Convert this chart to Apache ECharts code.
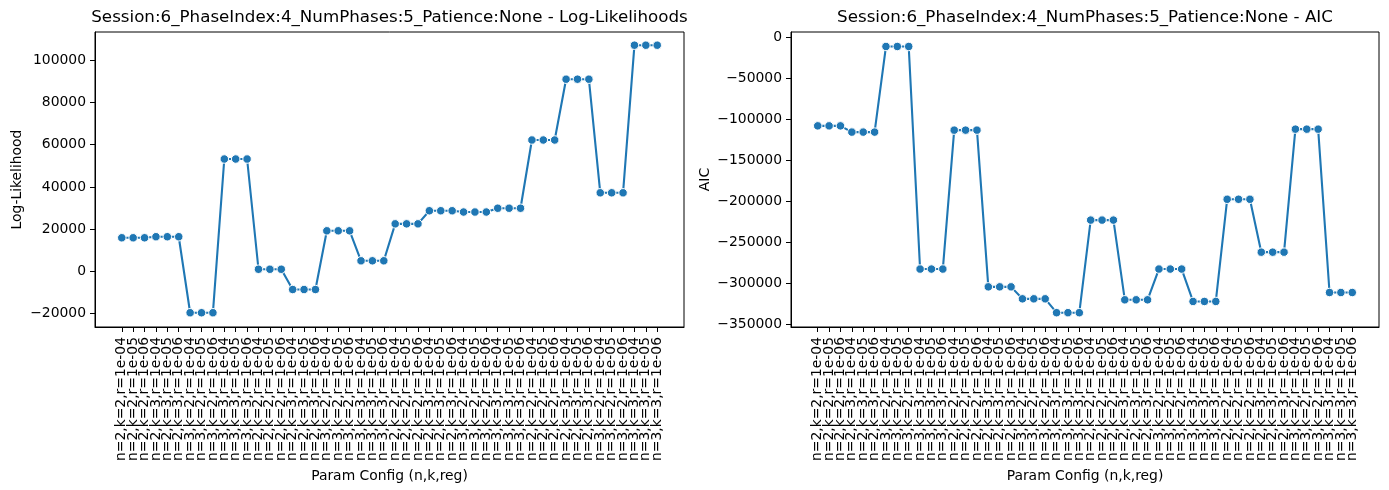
<!DOCTYPE html>
<html><head><meta charset="utf-8">
<script src="https://cdn.jsdelivr.net/npm/echarts@6/dist/echarts.min.js"></script>
<style>html,body{margin:0;padding:0;background:#fff}#c{width:1389px;height:490px}</style>
</head><body><div id="c"></div>
<script>
const categories = [
"n=2,k=2,r=1e-04","n=2,k=2,r=1e-05","n=2,k=2,r=1e-06","n=2,k=3,r=1e-04","n=2,k=3,r=1e-05","n=2,k=3,r=1e-06",
"n=3,k=2,r=1e-04","n=3,k=2,r=1e-05","n=3,k=2,r=1e-06","n=3,k=3,r=1e-04","n=3,k=3,r=1e-05","n=3,k=3,r=1e-06",
"n=2,k=2,r=1e-04","n=2,k=2,r=1e-05","n=2,k=2,r=1e-06","n=2,k=3,r=1e-04","n=2,k=3,r=1e-05","n=2,k=3,r=1e-06",
"n=3,k=2,r=1e-04","n=3,k=2,r=1e-05","n=3,k=2,r=1e-06","n=3,k=3,r=1e-04","n=3,k=3,r=1e-05","n=3,k=3,r=1e-06",
"n=2,k=2,r=1e-04","n=2,k=2,r=1e-05","n=2,k=2,r=1e-06","n=2,k=3,r=1e-04","n=2,k=3,r=1e-05","n=2,k=3,r=1e-06",
"n=3,k=2,r=1e-04","n=3,k=2,r=1e-05","n=3,k=2,r=1e-06","n=3,k=3,r=1e-04","n=3,k=3,r=1e-05","n=3,k=3,r=1e-06",
"n=2,k=2,r=1e-04","n=2,k=2,r=1e-05","n=2,k=2,r=1e-06","n=2,k=3,r=1e-04","n=2,k=3,r=1e-05","n=2,k=3,r=1e-06",
"n=3,k=2,r=1e-04","n=3,k=2,r=1e-05","n=3,k=2,r=1e-06","n=3,k=3,r=1e-04","n=3,k=3,r=1e-05","n=3,k=3,r=1e-06"
];
const logLikelihood = [
15900,15900,15900,16400,16400,16400,
-19600,-19600,-19600,53200,53200,53200,
1000,1000,1000,-8600,-8600,-8600,
19200,19200,19200,5000,5000,5000,
22500,22500,22500,28700,28700,28700,
28100,28100,28100,29900,29900,29900,
62200,62200,62200,91000,91000,91000,
37200,37200,37200,107100,107100,107100
];
const aic = [
-108100,-108100,-108100,-115700,-115700,-115700,
-11300,-11300,-11300,-282700,-282700,-282700,
-113300,-113300,-113300,-304400,-304400,-304400,
-319000,-319000,-319000,-335900,-335900,-335900,
-223000,-223000,-223000,-320200,-320200,-320200,
-282700,-282700,-282700,-322200,-322200,-322200,
-197600,-197600,-197600,-262100,-262100,-262100,
-112100,-112100,-112100,-311300,-311300,-311300
];
const llTicks = [-20000,0,20000,40000,60000,80000,100000];
const aicTicks = [-350000,-300000,-250000,-200000,-150000,-100000,-50000,0];
const titleLL = "Session:6_PhaseIndex:4_NumPhases:5_Patience:None - Log-Likelihoods";
const titleAIC = "Session:6_PhaseIndex:4_NumPhases:5_Patience:None - AIC";

const FONT = "DejaVu Sans";
const BLUE = "#1f77b4";
const idx = categories.map((_, i) => i);
const evenIdx = idx.filter(i => i % 2 === 0);
const oddIdx = idx.filter(i => i % 2 === 1);
const fmtNum = v => v < 0 ? "\u2212" + Math.abs(v) : String(v);

// Two stacked bottom axes per grid (even / odd labels) so that ECharts
// does not drop any of the densely packed rotated category labels.
function xAxisFor(gi, vals, withName) {
  return {
    type: "value", gridIndex: gi, position: "bottom", offset: 0, min: -2.35, max: 49.35,
    name: withName ? "Param Config (n,k,reg)" : "", nameLocation: "middle", nameGap: 138,
    nameTextStyle: {fontFamily: FONT, fontSize: 13.9, color: "#000"},
    axisLine: {show: withName, onZero: false, lineStyle: {color: "#000", width: 1}},
    axisTick: {show: true, inside: false, length: 5, customValues: vals, lineStyle: {color: "#000", width: 1}},
    axisLabel: {show: true, rotate: 90, margin: 10, customValues: vals, showMinLabel: true, showMaxLabel: true, hideOverlap: false,
      fontFamily: FONT, fontSize: 13.9, color: "#000",
      formatter: v => categories[Math.round(v)] || ""},
    splitLine: {show: false}
  };
}
function yAxisFor(gi, name, min, max, ticks, gap) {
  return {
    type: "value", gridIndex: gi, min: min, max: max,
    name: name, nameLocation: "middle", nameGap: gap,
    nameTextStyle: {fontFamily: FONT, fontSize: 13.9, color: "#000"},
    axisLine: {show: true, onZero: false, lineStyle: {color: "#000", width: 1}},
    axisTick: {show: true, inside: false, length: 5, customValues: ticks, lineStyle: {color: "#000", width: 1}},
    axisLabel: {show: true, margin: 9, customValues: ticks, showMinLabel: true, showMaxLabel: true,
      fontFamily: FONT, fontSize: 13.9, color: "#000", formatter: fmtNum},
    splitLine: {show: false}
  };
}
function seriesFor(xi, yi, vals) {
  return {
    type: "line", xAxisIndex: xi, yAxisIndex: yi,
    data: vals.map((v, i) => [i, v]),
    symbol: "circle", symbolSize: 8.5,
    lineStyle: {color: BLUE, width: 2.1},
    itemStyle: {color: BLUE, borderColor: "#fff", borderWidth: 1},
    animation: false
  };
}

const chart = echarts.init(document.getElementById("c"), null, {renderer: "canvas"});
chart.setOption({
  animation: false,
  backgroundColor: "#fff",
  grid: [
    {left: 95, top: 32, width: 589, height: 295, show: true, borderColor: "#000", borderWidth: 1, backgroundColor: "transparent"},
    {left: 791, top: 32, width: 588, height: 295, show: true, borderColor: "#000", borderWidth: 1, backgroundColor: "transparent"}
  ],
  xAxis: [xAxisFor(0, evenIdx, true), xAxisFor(0, oddIdx, false), xAxisFor(1, evenIdx, true), xAxisFor(1, oddIdx, false)],
  yAxis: [
    yAxisFor(0, "Log-Likelihood", -26350, 113350, llTicks, 71),
    yAxisFor(1, "AIC", -353350, 6350, aicTicks, 79)
  ],
  series: [seriesFor(0, 0, logLikelihood), seriesFor(2, 1, aic)],
  graphic: [
    {type: "text", x: 389.5, y: 18, style: {text: titleLL, align: "center", verticalAlign: "middle", fontFamily: FONT, fontSize: 16.7, fill: "#000"}},
    {type: "text", x: 1085, y: 18, style: {text: titleAIC, align: "center", verticalAlign: "middle", fontFamily: FONT, fontSize: 16.7, fill: "#000"}}
  ]
});
</script>
</body></html>
